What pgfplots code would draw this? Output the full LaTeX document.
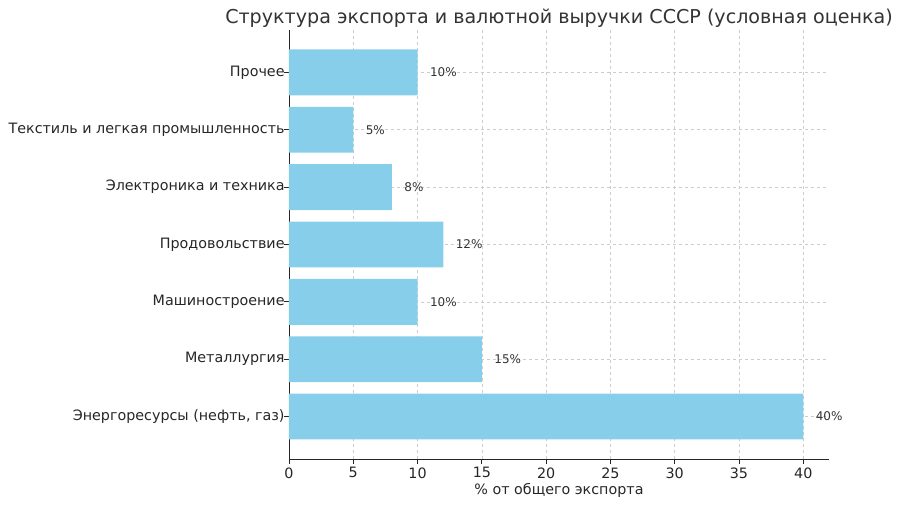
\documentclass[border=0pt]{standalone}
\usepackage{fontspec}
\setmainfont{DejaVu Sans}
\usepackage{pgfplots}
\pgfplotsset{compat=1.18}
\definecolor{barc}{HTML}{87CEEB}
\definecolor{txt}{HTML}{262626}
\definecolor{ttl}{HTML}{333333}
\definecolor{gridc}{HTML}{CCCCCC}
\begin{document}
\begin{tikzpicture}[x=1pt,y=1pt]
\path[use as bounding box] (-289,-46) rectangle (611,459);
\begin{axis}[
  at={(0,0)}, anchor=south west,
  scale only axis, width=540pt, height=429pt,
  xbar, bar width=0.8,
  xmin=0, xmax=42, ymin=-0.74, ymax=6.74,
  axis lines*=left,
  axis line style={draw=txt, line width=0.9pt},
  xtick={0,5,...,40},
  ytick={0,...,6},
  yticklabels={{Энергоресурсы (нефть, газ)},{Металлургия},{Машиностроение},{Продовольствие},{Электроника и техника},{Текстиль и легкая промышленность},{Прочее}},
  tick align=outside,
  major tick length=4.9pt,
  tick style={draw=txt, line width=0.9pt},
  xmajorgrids, ymajorgrids,
  grid style={dashed, draw=gridc, line width=0.6pt},
  /pgf/number format/assume math mode=true,
  ticklabel style={font=\fontsize{14.3}{16}\selectfont, text=txt},
  yticklabel style={xshift=4pt},
  xlabel={\% от общего экспорта},
  xlabel style={font=\fontsize{14.3}{16}\selectfont, text=txt, yshift=2pt},
  title={Структура экспорта и валютной выручки СССР (условная оценка)},
  title style={font=\fontsize{19.1}{22}\selectfont, text=ttl, yshift=-7pt},
  point meta=x,
  nodes near coords={\pgfmathprintnumber{\pgfplotspointmeta}\%},
  every node near coord/.append style={anchor=west, xshift=9pt, font=\fontsize{12}{13}\selectfont, text=ttl},
]
\addplot[fill=barc, draw=none] coordinates {
(40,0) (15,1) (10,2) (12,3) (8,4) (5,5) (10,6)};
\end{axis}
\end{tikzpicture}
\end{document}
